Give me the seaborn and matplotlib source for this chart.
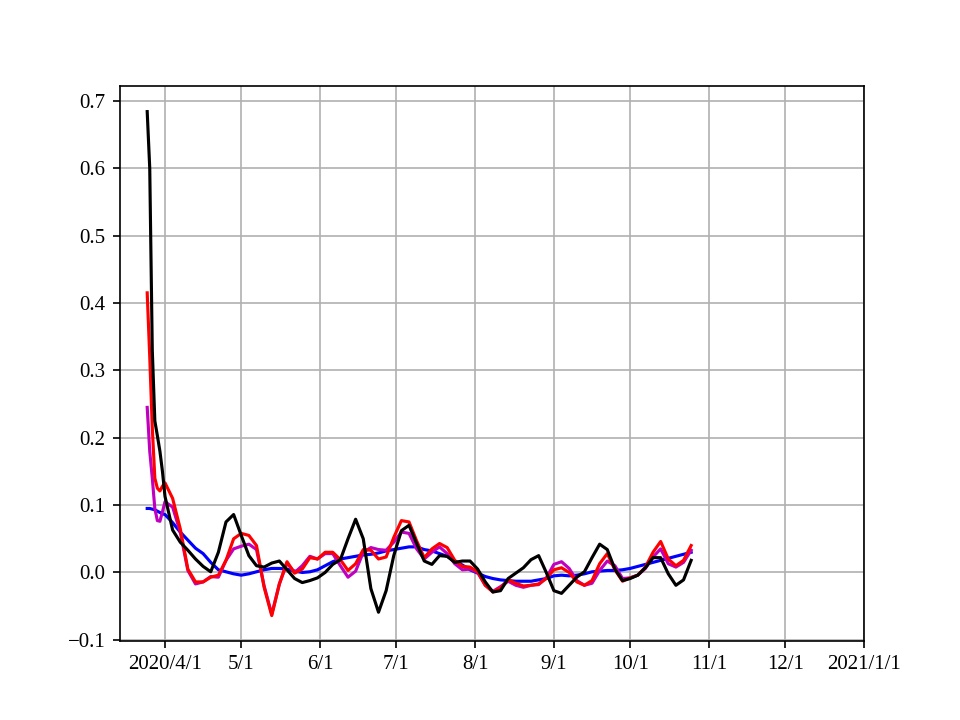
import numpy as np
import pandas as pd
import matplotlib
matplotlib.use("Agg")
import matplotlib.pyplot as plt
import seaborn as sns

# ---- data -------------------------------------------------------------
early_dates = pd.date_range("2020-03-25", "2020-03-31", freq="D")
main_dates = pd.date_range("2020-04-01", "2020-10-25", freq="3D")
dates = list(early_dates) + list(main_dates)

blue_vals = [0.095, 0.095, 0.094, 0.093, 0.091, 0.089, 0.087,
             0.086, 0.074, 0.060, 0.048, 0.036, 0.028, 0.015, 0.004, 0.001, -0.002,
             -0.004, -0.002, 0.001, 0.004, 0.006, 0.006, 0.005, 0.002, 0.000, 0.001,
             0.004, 0.010, 0.016, 0.020, 0.022, 0.024, 0.026, 0.027, 0.029, 0.032,
             0.034, 0.036, 0.038, 0.038, 0.034, 0.032, 0.028, 0.024, 0.017, 0.011,
             0.004, -0.001, -0.006, -0.009, -0.011, -0.012, -0.013, -0.013, -0.013, -0.011,
             -0.009, -0.005, -0.004, -0.005, -0.004, -0.002, 0.001, 0.002, 0.003, 0.003,
             0.004, 0.006, 0.009, 0.012, 0.015, 0.018, 0.021, 0.024, 0.027, 0.030]

magenta_vals = [0.245, 0.18, 0.14, 0.095, 0.077, 0.076, 0.09,
                0.105, 0.097, 0.060, 0.003, -0.017, -0.014, -0.006, -0.007, 0.018, 0.035,
                0.039, 0.042, 0.034, -0.020, -0.062, -0.017, 0.014, 0.000, 0.010, 0.024,
                0.020, 0.028, 0.028, 0.010, -0.007, 0.002, 0.030, 0.037, 0.034, 0.033,
                0.045, 0.060, 0.058, 0.035, 0.020, 0.030, 0.038, 0.028, 0.013, 0.004,
                0.005, 0.000, -0.019, -0.028, -0.021, -0.013, -0.019, -0.022, -0.019, -0.018,
                -0.008, 0.012, 0.016, 0.006, -0.012, -0.019, -0.016, 0.003, 0.017, 0.010,
                -0.009, -0.008, -0.004, 0.006, 0.023, 0.035, 0.013, 0.008, 0.015, 0.033]

red_vals = [0.415, 0.32, 0.215, 0.14, 0.125, 0.121, 0.128,
            0.133, 0.110, 0.065, 0.005, -0.014, -0.014, -0.007, -0.004, 0.018, 0.050,
            0.058, 0.055, 0.040, -0.022, -0.064, -0.017, 0.016, -0.001, 0.005, 0.022,
            0.020, 0.030, 0.030, 0.019, 0.003, 0.013, 0.034, 0.033, 0.020, 0.023,
            0.052, 0.077, 0.075, 0.047, 0.022, 0.035, 0.043, 0.037, 0.018, 0.009,
            0.008, 0.001, -0.019, -0.029, -0.023, -0.011, -0.016, -0.020, -0.019, -0.017,
            -0.009, 0.004, 0.007, 0.000, -0.014, -0.019, -0.012, 0.013, 0.028, 0.004,
            -0.013, -0.008, -0.004, 0.008, 0.030, 0.046, 0.020, 0.010, 0.018, 0.040]

black_vals = [0.684, 0.60, 0.33, 0.225, 0.203, 0.18, 0.15,
              0.113, 0.063, 0.045, 0.033, 0.020, 0.009, 0.001, 0.030, 0.075, 0.086,
              0.055, 0.025, 0.010, 0.008, 0.014, 0.017, 0.004, -0.009, -0.015, -0.012,
              -0.008, 0.000, 0.012, 0.019, 0.050, 0.079, 0.050, -0.024, -0.059, -0.027,
              0.025, 0.062, 0.070, 0.043, 0.017, 0.012, 0.025, 0.024, 0.015, 0.017,
              0.017, 0.005, -0.014, -0.029, -0.027, -0.009, -0.001, 0.007, 0.019, 0.025,
              0.000, -0.027, -0.031, -0.019, -0.007, 0.001, 0.022, 0.042, 0.034, 0.005,
              -0.012, -0.009, -0.004, 0.007, 0.022, 0.022, -0.002, -0.019, -0.011, 0.018]

tick_dates = ["2020-04-01", "2020-05-01", "2020-06-01", "2020-07-01", "2020-08-01",
              "2020-09-01", "2020-10-01", "2020-11-01", "2020-12-01", "2021-01-01"]
tick_labels = ["2020/4/1", "5/1", "6/1", "7/1", "8/1", "9/1", "10/1", "11/1", "12/1", "2021/1/1"]

# ---- plot -------------------------------------------------------------
plt.rcParams["font.family"] = ["Liberation Serif", "DejaVu Serif"]
plt.rcParams["font.size"] = 10

fig, ax = plt.subplots(figsize=(6.4, 4.8), dpi=150)

df = pd.DataFrame({"date": dates, "b": blue_vals, "m": magenta_vals,
                   "r": red_vals, "k": black_vals})

for col, color in [("b", "blue"), ("m", "m"), ("r", "red"), ("k", "black")]:
    sns.lineplot(data=df, x="date", y=col, color=color, linewidth=1.5, ax=ax)

ax.grid(True, color="#b0b0b0", linewidth=0.8)
ax.set_xlabel("")
ax.set_ylabel("")

tick_ts = pd.to_datetime(tick_dates)
ax.set_xticks(tick_ts)
ax.set_xticklabels(tick_labels)

start = pd.Timestamp(dates[0])
end = pd.Timestamp(dates[-1])
span = end - start
ax.set_xlim(start - span * 0.05, pd.Timestamp("2021-01-01"))

fig.savefig("out.png", dpi=150)
